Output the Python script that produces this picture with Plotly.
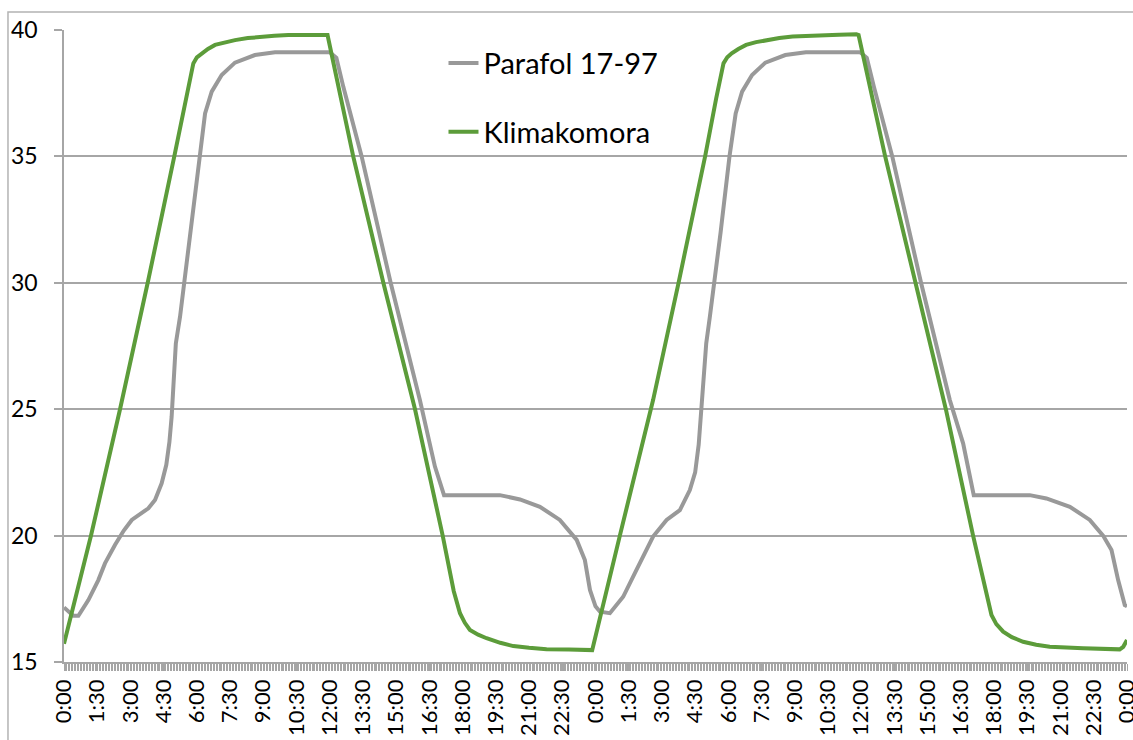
import pandas as pd
import plotly.graph_objects as go

# Time since start of the record, in hours, and temperatures in °C
klima_h = [0.0, 1.22, 2.53, 3.78, 4.98, 5.5, 5.84, 6.0, 6.22, 6.5, 6.82, 7.25, 7.72, 8.3, 8.92,
           9.5, 10.13, 11.0, 11.78, 11.9, 13.06, 14.42, 15.85, 17.1, 17.6, 17.88, 18.1, 18.33,
           18.7, 19.08, 19.7, 20.29, 21.0, 21.79, 22.8, 23.75, 23.85, 25.1, 26.6, 27.75, 28.95,
           29.45, 29.78, 29.95, 30.15, 30.45, 30.8, 31.25, 31.7, 32.3, 32.9, 33.5, 34.1, 35.0,
           35.78, 35.88, 37.08, 38.45, 39.82, 41.05, 41.6, 41.88, 42.1, 42.41, 42.8, 43.31,
           43.9, 44.51, 46.02, 47.67, 47.83, 48.0]
klima_t = [15.72, 20.0, 25.0, 30.0, 35.0, 37.3, 38.68, 38.92, 39.08, 39.25, 39.41, 39.52, 39.6,
           39.68, 39.74, 39.77, 39.8, 39.81, 39.83, 39.8, 35.0, 30.0, 25.0, 20.0, 17.8, 16.93,
           16.55, 16.27, 16.08, 15.94, 15.76, 15.63, 15.56, 15.5, 15.49, 15.5, 15.47, 20.0,
           25.36, 30.0, 35.0, 37.3, 38.68, 38.92, 39.08, 39.25, 39.41, 39.52, 39.6, 39.68,
           39.74, 39.77, 39.8, 39.81, 39.83, 39.8, 35.0, 30.0, 25.0, 20.0, 17.8, 16.86, 16.5,
           16.2, 15.98, 15.8, 15.68, 15.6, 15.54, 15.5, 15.6, 15.87]

parafol_h = [0.0, 0.42, 0.65, 1.1, 1.55, 1.85, 2.3, 2.7, 3.06, 3.45, 3.81, 4.11, 4.41, 4.62,
             4.76, 4.86, 4.95, 5.05, 5.24, 5.46, 5.7, 6.09, 6.37, 6.67, 7.12, 7.72, 8.62, 9.53,
             12.0, 12.3, 12.61, 13.44, 14.75, 16.07, 16.75, 17.16, 19.68, 20.59, 21.49, 22.39,
             23.0, 23.15, 23.52, 23.75, 24.0, 24.2, 24.65, 25.25, 25.85, 26.6, 27.21, 27.81,
             28.26, 28.5, 28.66, 28.79, 28.9, 29.0, 29.17, 29.4, 29.65, 30.05, 30.33, 30.62,
             31.07, 31.67, 32.57, 33.5, 35.95, 36.25, 36.57, 37.4, 38.7, 40.0, 40.6, 41.08,
             43.61, 44.36, 45.42, 46.32, 46.92, 47.3, 47.6, 47.9, 48.0]
parafol_t = [17.16, 16.83, 16.83, 17.45, 18.24, 18.9, 19.63, 20.2, 20.62, 20.85, 21.08, 21.41,
             22.07, 22.8, 23.7, 24.7, 26.1, 27.6, 28.66, 30.24, 32.0, 35.0, 36.7, 37.56, 38.22,
             38.71, 39.01, 39.12, 39.12, 38.9, 37.76, 35.0, 30.0, 25.36, 22.73, 21.6, 21.6,
             21.43, 21.14, 20.62, 20.0, 19.83, 19.03, 17.85, 17.2, 16.99, 16.93, 17.58, 18.64,
             19.96, 20.62, 21.01, 21.8, 22.5, 23.6, 25.0, 26.4, 27.6, 28.7, 30.2, 32.0, 35.0,
             36.7, 37.56, 38.22, 38.71, 39.01, 39.12, 39.12, 38.9, 37.76, 35.0, 30.0, 25.36,
             23.65, 21.6, 21.6, 21.47, 21.14, 20.62, 20.0, 19.43, 18.24, 17.25, 17.2]

y_ticks = [15, 20, 25, 30, 35, 40]

start = pd.Timestamp("2014-06-01 00:00")
to_time = lambda hours: start + pd.to_timedelta(hours, unit="h")

GRID = "#a6a6a6"
FONT = "Lato, 'Open Sans', sans-serif"

fig = go.Figure()
fig.add_trace(go.Scatter(x=to_time(parafol_h), y=parafol_t, mode="lines",
                         name="Parafol 17-97", legendgroup="a",
                         line=dict(color="#999999", width=4)))
fig.add_trace(go.Scatter(x=to_time(klima_h), y=klima_t, mode="lines",
                         name="Klimakomora", legendgroup="b",
                         line=dict(color="#5c9c3a", width=4)))

fig.update_layout(
    width=1133, height=740, autosize=False,
    margin=dict(l=64, r=6, t=30, b=78, autoexpand=False),
    paper_bgcolor="white", plot_bgcolor="white",
    font=dict(family=FONT, color="black"),
    showlegend=True,
    legend=dict(x=0.357, y=0.988, xanchor="left", yanchor="top",
                font=dict(size=29, family=FONT), bgcolor="rgba(0,0,0,0)",
                traceorder="grouped", tracegroupgap=28),
    shapes=[dict(type="rect", xref="paper", yref="paper",
                 x0=-0.0527, x1=1.02, y0=-0.14, y1=1.0285,
                 line=dict(color="#b3b3b3", width=1.5), layer="above")],
)

fig.update_xaxes(
    type="date", automargin=False,
    range=[to_time(0), to_time(48)],
    tick0=start, dtick=90 * 60 * 1000, tickformat="%-H:%M",
    tickangle=-90, tickfont=dict(size=22), ticklabeloverflow="allow",
    ticks="outside", ticklen=7, tickcolor=GRID, tickwidth=1,
    minor=dict(ticks="outside", ticklen=7, dtick=4 * 60 * 1000, tick0=start,
               tickcolor=GRID, tickwidth=1, showgrid=False),
    showgrid=False, showline=True, linecolor=GRID, linewidth=1.5, zeroline=False,
)
fig.update_yaxes(
    range=[15, 40], tickmode="array", tickvals=y_ticks, automargin=False,
    tickfont=dict(size=23),
    ticks="outside", ticklen=8, tickcolor=GRID, tickwidth=1.5,
    ticklabelstandoff=12,
    showgrid=True, gridcolor=GRID, gridwidth=1.5,
    showline=True, linecolor=GRID, linewidth=1.5, zeroline=False,
)

fig.write_html("out.html")
